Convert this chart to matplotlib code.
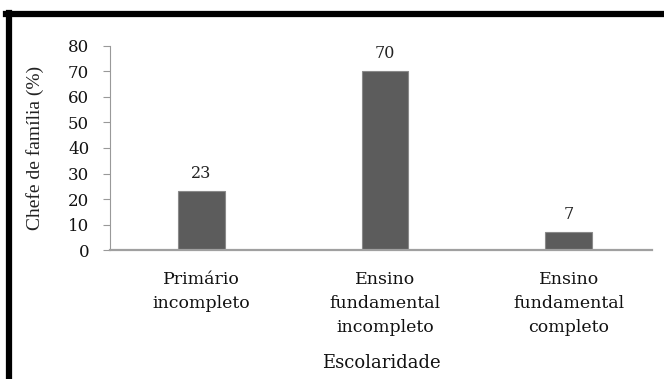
import matplotlib.pyplot as plt
from matplotlib.lines import Line2D

categorias = ['Primário\nincompleto', 'Ensino\nfundamental\nincompleto', 'Ensino\nfundamental\ncompleto']
valores = [23, 70, 7]
yticks = [0, 10, 20, 30, 40, 50, 60, 70, 80]

plt.rcParams['font.family'] = ['DejaVu Serif']

fig = plt.figure(figsize=(6.64, 3.79), dpi=100)
ax = fig.add_axes([0.1657, 0.34, 0.816, 0.539])

pos = range(len(categorias))
ax.bar(pos, valores, width=0.255, color='#5c5c5c', edgecolor='#8a8a8a', linewidth=0.8)
for x, v in zip(pos, valores):
    ax.text(x, v + 3.5, str(v), ha='center', va='bottom', fontsize=11.5, color='#222222')

ax.set_xlim(-0.495, 2.451)
ax.set_ylim(0, 80)
ax.set_yticks(yticks)
ax.set_xticks(list(pos))
ax.set_xticklabels(categorias, fontsize=12.5, linespacing=1.55, color='#111111')
ax.tick_params(axis='x', length=0, pad=15)
ax.tick_params(axis='y', length=5, color='#999999', labelsize=12, labelcolor='#111111', pad=10)
for s in ['top', 'right']:
    ax.spines[s].set_visible(False)
ax.spines['left'].set_color('#999999')
ax.spines['bottom'].set_color('#a0a0a0')
ax.spines['bottom'].set_linewidth(1.6)
ax.set_ylabel('Chefe de família (%)', fontsize=14, labelpad=17, family='Liberation Serif', color='#222222')
ax.set_xlabel('Escolaridade', fontsize=13, labelpad=13, color='#111111')

# moldura preta
fig.add_artist(Line2D([0.009, 1.0], [0.963, 0.963], color='black', lw=4.5, transform=fig.transFigure))
fig.add_artist(Line2D([0.0135, 0.0135], [0.0, 0.965], color='black', lw=4.5, transform=fig.transFigure))

fig.savefig('out.png', dpi=100)
